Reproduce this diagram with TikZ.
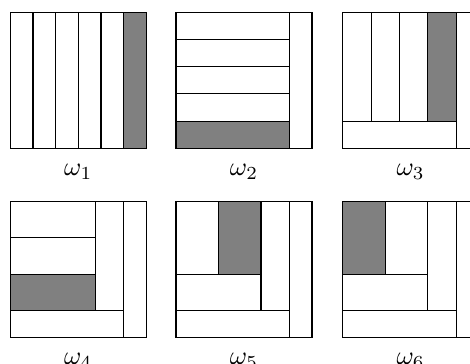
\documentclass[tikz,border=0pt]{standalone}
\usepackage{amsmath}
\usetikzlibrary{positioning}

\tikzset{
  tile/.style={draw=black, line width=0.4pt},
  shaded/.style={fill=gray},
  caption/.style={anchor=base, inner sep=0pt}
}

\begin{document}
\begin{tikzpicture}[x=51.7pt, y=51.7pt]
  % page frame
  \useasboundingbox (0,0) rectangle (3.456,2.676);
  \clip (0,0) rectangle (3.456,2.676);

  % omega 1: six vertical strips
  \begin{scope}[shift={(0.076,1.585)}]
    \fill[shaded] (5/6,0) rectangle (1,1);
    \foreach \i in {1,...,5}
      \draw[tile] (\i/6,0) -- (\i/6,1);
    \draw[tile] (0,0) rectangle (1,1);
    \node[caption] (w1) at (0.5,-0.2) {$\omega_1$};
  \end{scope}

  % omega 2: right strip, five rows
  \begin{scope}[shift={(1.294,1.585)}]
    \fill[shaded] (0,0) rectangle (5/6,1/5);
    \foreach \i in {1,...,4}
      \draw[tile] (0,\i/5) -- (5/6,\i/5);
    \draw[tile] (5/6,0) -- (5/6,1);
    \draw[tile] (0,0) rectangle (1,1);
    \node[caption] (w2) at (0.5,-0.2) {$\omega_2$};
  \end{scope}

  % omega 3: bottom row, four columns
  \begin{scope}[shift={(2.520,1.585)}]
    \fill[shaded] (15/24,1/5) rectangle (5/6,1);
    \foreach \i in {1,2,3}
      \draw[tile] (\i*5/24,1/5) -- (\i*5/24,1);
    \draw[tile] (0,1/5) -- (5/6,1/5);
    \draw[tile] (5/6,0) -- (5/6,1);
    \draw[tile] (0,0) rectangle (1,1);
    \node[caption] (w3) at (0.5,-0.2) {$\omega_3$};
  \end{scope}

  % omega 4: column, three rows
  \begin{scope}[shift={(0.076,0.193)}]
    \fill[shaded] (0,1/5) rectangle (5/8,7/15);
    \draw[tile] (0,7/15) -- (5/8,7/15);
    \draw[tile] (0,11/15) -- (5/8,11/15);
    \draw[tile] (5/8,1/5) -- (5/8,1);
    \draw[tile] (0,1/5) -- (5/6,1/5);
    \draw[tile] (5/6,0) -- (5/6,1);
    \draw[tile] (0,0) rectangle (1,1);
    \node[caption] (w4) at (0.5,-0.2) {$\omega_4$};
  \end{scope}

  % omega 5: row, two columns (right one)
  \begin{scope}[shift={(1.294,0.193)}]
    \fill[shaded] (5/16,7/15) rectangle (5/8,1);
    \draw[tile] (5/16,7/15) -- (5/16,1);
    \draw[tile] (0,7/15) -- (5/8,7/15);
    \draw[tile] (5/8,1/5) -- (5/8,1);
    \draw[tile] (0,1/5) -- (5/6,1/5);
    \draw[tile] (5/6,0) -- (5/6,1);
    \draw[tile] (0,0) rectangle (1,1);
    \node[caption] (w5) at (0.5,-0.2) {$\omega_5$};
  \end{scope}

  % omega 6: row, two columns (left one)
  \begin{scope}[shift={(2.520,0.193)}]
    \fill[shaded] (0,7/15) rectangle (5/16,1);
    \draw[tile] (5/16,7/15) -- (5/16,1);
    \draw[tile] (0,7/15) -- (5/8,7/15);
    \draw[tile] (5/8,1/5) -- (5/8,1);
    \draw[tile] (0,1/5) -- (5/6,1/5);
    \draw[tile] (5/6,0) -- (5/6,1);
    \draw[tile] (0,0) rectangle (1,1);
    \node[caption] (w6) at (0.5,-0.2) {$\omega_6$};
  \end{scope}
\end{tikzpicture}
\end{document}
